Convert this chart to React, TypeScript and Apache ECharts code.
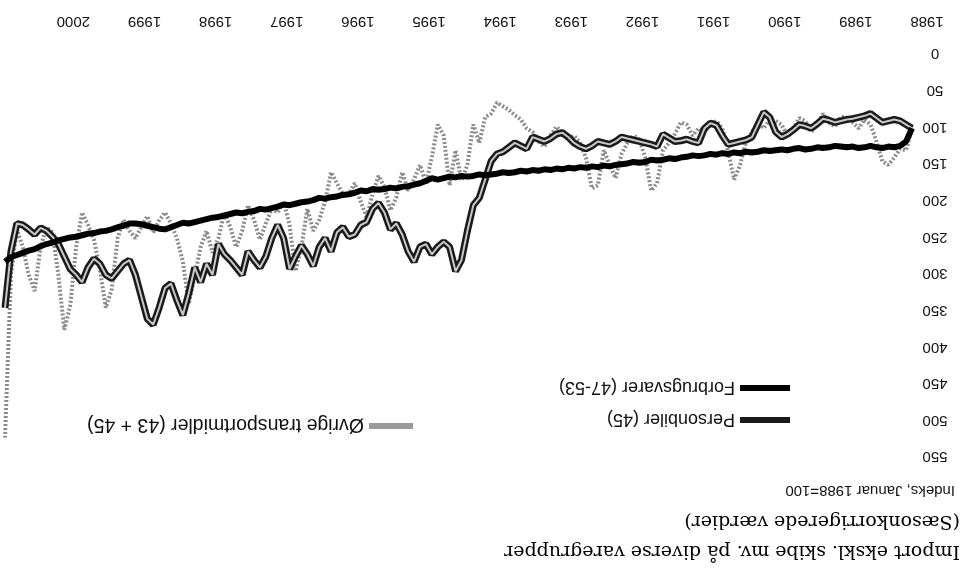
import React, { useEffect, useRef } from "react";
import * as echarts from "echarts";

// Tick labels
const years = ["1988", "1989", "1990", "1991", "1992", "1993", "1994", "1995", "1996", "1997", "1998", "1999", "2000"];

// Series names and texts
const seriesNames = ["Personbiler (45)", "Forbrugsvarer (47-53)", "Øvrige transportmidler (43 + 45)"];
const title1 = "Import ekskl. skibe mv. på diverse varegrupper";
const title2 = "(Sæsonkorrigerede værdier)";
const subtitle = "Indeks, Januar 1988=100";

// Monthly values, January 1988 to October 2000 (index, January 1988 = 100)
const forbrugsvarer = [
  100, 118, 124, 126, 125, 127, 126, 124, 126, 127, 125, 126,
  125, 124, 126, 127, 126, 128, 129, 127, 128, 130, 129, 130,
  131, 130, 132, 133, 132, 134, 133, 135, 134, 136, 135, 137,
  138, 137, 139, 140, 142, 141, 143, 144, 143, 146, 147, 146,
  148, 149, 150, 152, 151, 153, 152, 154, 153, 155, 154, 156,
  155, 157, 156, 158, 157, 159, 158, 160, 161, 160, 162, 163,
  164, 163, 165, 166, 165, 167, 166, 168, 170, 168, 172, 175,
  177, 179, 180, 182, 181, 183, 184, 183, 186, 185, 188, 190,
  191, 193, 194, 196, 195, 198, 200, 201, 203, 205, 204, 207,
  209, 211, 210, 213, 214, 216, 215, 217, 219, 221, 222, 224,
  226, 228, 230, 229, 232, 235, 238, 237, 235, 233, 231, 230,
  230, 233, 235, 238, 240, 241, 243, 244, 246, 248, 249, 251,
  253, 256, 258, 261, 265, 267, 270, 273, 276, 282,
];

const personbiler = [
  100, 95, 90, 88, 90, 92, 86, 80, 83, 85, 87, 88,
  90, 92, 89, 87, 94, 100, 97, 95, 102, 108, 112, 105,
  85, 78, 95, 112, 116, 118, 120, 122, 110, 96, 93, 100,
  120, 118, 115, 117, 118, 113, 108, 125, 122, 120, 118, 116,
  114, 112, 118, 122, 120, 118, 124, 128, 125, 120, 112, 106,
  108, 114, 118, 115, 112, 128, 124, 120, 126, 132, 135, 145,
  170, 195, 205, 240, 280, 295, 262, 255, 262, 272, 258, 262,
  282, 268, 245, 230, 238, 215, 202, 210, 228, 232, 245, 248,
  235, 242, 268, 250, 262, 288, 272, 260, 275, 292, 250, 232,
  250, 275, 290, 280, 268, 300, 290, 280, 272, 258, 300, 285,
  310, 290, 325, 355, 335, 312, 318, 345, 368, 360, 330, 300,
  280, 285, 295, 305, 300, 285, 278, 290, 310, 300, 292, 275,
  258, 248, 240, 236, 245, 238, 232, 230, 268, 345,
];

const ovrige = [
  100, 130, 128, 140, 150, 145, 118, 95, 88, 100, 92, 86,
  84, 98, 92, 80, 95, 105, 90, 86, 100, 110, 95, 90,
  88, 100, 92, 105, 118, 150, 170, 132, 100, 90, 95, 105,
  100, 110, 95, 92, 108, 120, 130, 175, 185, 140, 115, 110,
  120, 135, 168, 150, 130, 178, 182, 140, 120, 110, 115, 105,
  98, 110, 125, 118, 105, 100, 88, 82, 75, 70, 65, 80,
  85, 120, 95, 150, 172, 130, 178, 110, 95, 140, 175, 150,
  170, 185, 160, 195, 212, 180, 165, 190, 222, 200, 175, 190,
  190, 175, 160, 200, 225, 240, 210, 262, 295, 232, 200, 215,
  210, 230, 252, 225, 205, 240, 262, 235, 215, 250, 270, 240,
  262, 302, 340, 282, 250, 230, 215, 226, 242, 220, 235, 250,
  240, 225, 250, 320, 345, 292, 252, 232, 215, 262, 342, 375,
  300, 242, 235, 262, 322, 300, 262, 238, 300, 522,
];

const labelFont = "Liberation Sans";

export default function App() {
  const ref = useRef<HTMLDivElement>(null);

  useEffect(() => {
    if (!ref.current) return;
    const chart = echarts.init(ref.current, null, { renderer: "svg" });
    const toPairs = (arr: number[]) => arr.map((v, i) => [i, v]);
    const lastIndex = forbrugsvarer.length - 1;

    chart.setOption({
      animation: false,
      backgroundColor: "#ffffff",
      title: [
        {
          text: title1,
          left: 9,
          top: 17,
          padding: 0,
          textStyle: { fontFamily: "DejaVu Serif", fontSize: 19, fontWeight: "normal", color: "#000" },
        },
        {
          text: title2,
          left: 9,
          top: 47,
          padding: 0,
          textStyle: { fontFamily: "DejaVu Serif", fontSize: 19, fontWeight: "normal", color: "#000" },
        },
        {
          text: subtitle,
          left: 14,
          top: 81,
          padding: 0,
          textStyle: { fontFamily: labelFont, fontSize: 15, fontWeight: "normal", color: "#111" },
        },
      ],
      legend: [
        {
          orient: "vertical",
          left: 179,
          top: 151,
          padding: 0,
          itemWidth: 50,
          itemHeight: 6,
          itemGap: 14,
          textStyle: { fontFamily: labelFont, fontSize: 18, color: "#111" },
          data: [
            { name: seriesNames[0], icon: "rect", itemStyle: { color: "#1a1a1a" } },
            { name: seriesNames[1], icon: "rect", itemStyle: { color: "#000" } },
          ],
        },
        {
          orient: "vertical",
          left: 556,
          top: 144,
          padding: 0,
          itemWidth: 44,
          itemHeight: 6,
          textStyle: { fontFamily: labelFont, fontSize: 19.5, color: "#111" },
          data: [{ name: seriesNames[2], icon: "rect", itemStyle: { color: "#9a9a9a" } }],
        },
      ],
      grid: { left: 57, right: 5, top: 122, bottom: 55 },
      xAxis: {
        type: "value",
        min: 0,
        max: lastIndex,
        interval: 12,
        axisLine: { show: false },
        axisTick: { show: false },
        splitLine: { show: false },
        axisLabel: {
          margin: 25,
          padding: [0, 30, 0, 0],
          fontFamily: labelFont,
          fontSize: 15,
          color: "#111",
          formatter: (v: number) => (v % 12 === 0 && years[v / 12] ? years[v / 12] : ""),
        },
      },
      yAxis: {
        type: "value",
        min: 0,
        max: 550,
        interval: 50,
        axisLine: { show: false },
        axisTick: { show: false },
        splitLine: { show: false },
        axisLabel: {
          align: "center",
          margin: 23,
          fontFamily: labelFont,
          fontSize: 15,
          color: "#111",
        },
      },
      series: [
        {
          name: seriesNames[2],
          type: "line",
          data: toPairs(ovrige),
          symbol: "none",
          z: 2,
          itemStyle: { color: "#9a9a9a" },
          lineStyle: { color: "#8a8a8a", width: 4, type: [2, 2] },
        },
        {
          name: seriesNames[0],
          type: "line",
          data: toPairs(personbiler),
          symbol: "none",
          z: 3,
          itemStyle: { color: "#1a1a1a" },
          lineStyle: { color: "#1a1a1a", width: 7 },
        },
        {
          name: "personbiler-inner",
          type: "line",
          data: toPairs(personbiler),
          symbol: "none",
          silent: true,
          z: 4,
          itemStyle: { color: "#c8c8c8" },
          lineStyle: { color: "#c8c8c8", width: 2 },
        },
        {
          name: seriesNames[1],
          type: "line",
          data: toPairs(forbrugsvarer),
          symbol: "none",
          z: 5,
          itemStyle: { color: "#000" },
          lineStyle: { color: "#000", width: 6 },
        },
      ],
    });

    return () => chart.dispose();
  }, []);

  return (
    <div
      ref={ref}
      style={{
        position: "fixed",
        left: 0,
        top: 0,
        width: 969,
        height: 580,
        transform: "rotate(180deg)",
        background: "#fff",
      }}
    />
  );
}
